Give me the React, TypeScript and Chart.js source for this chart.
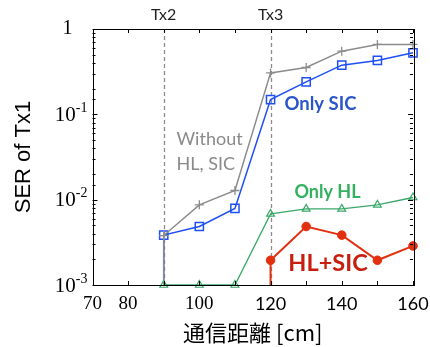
import React, { useEffect, useRef } from 'react';
import { Chart, registerables } from 'chart.js';

Chart.register(...registerables);

// ---- data ----
const distances = [90, 100, 110, 120, 130, 140, 150, 160];
const serWithout = [0.0038, 0.0087, 0.0128, 0.306, 0.354, 0.55, 0.66, 0.66];
const serOnlySIC = [0.00384, 0.00485, 0.0079, 0.149, 0.24, 0.377, 0.428, 0.526];
const serOnlyHL = [0.001, 0.001, 0.001, 0.0068, 0.0078, 0.0078, 0.0087, 0.0106];
const serHLSIC = [null, null, null, 0.00195, 0.00485, 0.00384, 0.00195, 0.00287];
const floorSER = 0.001;

const txPositions = [90, 120];
const txLabels = ['Tx2', 'Tx3'];

const xTickLabels = [70, 80, 100, 120, 140, 160];
const yDecades = [1, 0.1, 0.01, 0.001];
const yDecadeBase = ['1', '10', '10', '10'];
const yDecadeExp = ['', '-1', '-2', '-3'];

const noteTexts = ['Without', 'HL, SIC', 'Only SIC', 'Only HL', 'HL+SIC'];
const noteX = [93.6, 93.6, 123.9, 126.7, 125];
const noteY = [0.0508, 0.0258, 0.133, 0.01226, 0.00177];

// ---- styles ----
const noteColors = ['#8a8a8a', '#8a8a8a', '#2b56c8', '#33b15e', '#c81e10'];
const noteFonts = [
  '18px Lato', '18px Lato', 'bold 18.5px Lato', 'bold 18px Lato', 'bold 23.5px Lato',
];

type P = { x: number; y: number };

function buildPoints(vals: (number | null)[], floorAtStart: boolean): P[] {
  const pts: P[] = [];
  distances.forEach((d, i) => {
    const v = vals[i];
    if (v == null) return;
    if (floorAtStart && pts.length === 0) pts.push({ x: d, y: floorSER });
    pts.push({ x: d, y: v });
  });
  return pts;
}

function radii(pts: P[], floorAtStart: boolean, r: number): number[] {
  return pts.map((_, i) => (floorAtStart && i === 0 ? 0 : r));
}

const isDecade = (v: number) =>
  yDecades.findIndex((d) => Math.abs(Math.log10(v) - Math.log10(d)) < 1e-6);

const overlayPlugin = {
  id: 'overlay',
  beforeDatasetsDraw(chart: any) {
    const { ctx, chartArea, scales } = chart;
    const xs = scales.x;
    ctx.save();
    ctx.strokeStyle = '#8c8c8c';
    ctx.lineWidth = 1.3;
    ctx.setLineDash([4, 3]);
    txPositions.forEach((t) => {
      const px = Math.round(xs.getPixelForValue(t)) + 0.5;
      ctx.beginPath();
      ctx.moveTo(px, chartArea.top);
      ctx.lineTo(px, chartArea.bottom);
      ctx.stroke();
    });
    ctx.setLineDash([]);
    ctx.restore();
  },
  afterDraw(chart: any) {
    const { ctx, chartArea, scales } = chart;
    const xs = scales.x;
    const ys = scales.y;
    const { left, right, top, bottom } = chartArea;
    ctx.save();
    // frame
    ctx.strokeStyle = '#000';
    ctx.lineWidth = 1;
    ctx.strokeRect(Math.round(left) + 0.5, Math.round(top) + 0.5, Math.round(right - left), Math.round(bottom - top));
    // x tick marks inward (bottom & top)
    xs.ticks.forEach((t: any) => {
      const px = Math.round(xs.getPixelForValue(t.value)) + 0.5;
      ctx.beginPath();
      ctx.moveTo(px, bottom);
      ctx.lineTo(px, bottom - 4);
      ctx.moveTo(px, top);
      ctx.lineTo(px, top + 4);
      ctx.stroke();
    });
    // y tick marks inward (left & right)
    ys.ticks.forEach((t: any) => {
      const major = isDecade(t.value) >= 0;
      const len = major ? 5 : 3;
      const py = Math.round(ys.getPixelForValue(t.value)) + 0.5;
      ctx.beginPath();
      ctx.moveTo(left, py);
      ctx.lineTo(left + len, py);
      ctx.moveTo(right, py);
      ctx.lineTo(right - len, py);
      ctx.stroke();
    });
    // y decade labels with superscript exponents
    ctx.fillStyle = '#000';
    ctx.textBaseline = 'middle';
    yDecades.forEach((d, i) => {
      const py = ys.getPixelForValue(d);
      const xEnd = left - 5;
      if (!yDecadeExp[i]) {
        ctx.font = '20px "Liberation Serif"';
        ctx.textAlign = 'center';
        ctx.fillText(yDecadeBase[i], xEnd - 20, py);
        return;
      }
      ctx.font = '14px "Liberation Serif"';
      ctx.textAlign = 'right';
      const ew = ctx.measureText(yDecadeExp[i]).width;
      ctx.fillText(yDecadeExp[i], xEnd, py - 6);
      ctx.font = '21px "Liberation Serif"';
      ctx.fillText(yDecadeBase[i], xEnd - ew, py + 1);
    });
    // Tx labels
    ctx.fillStyle = '#222';
    ctx.font = '16px Lato';
    ctx.textAlign = 'center';
    ctx.textBaseline = 'middle';
    txPositions.forEach((t, i) => {
      ctx.fillText(txLabels[i], xs.getPixelForValue(t), top - 14);
    });
    // annotations
    ctx.textAlign = 'left';
    noteTexts.forEach((txt, i) => {
      ctx.fillStyle = noteColors[i];
      ctx.font = noteFonts[i];
      ctx.fillText(txt, xs.getPixelForValue(noteX[i]), ys.getPixelForValue(noteY[i]));
    });
    ctx.restore();
  },
};

export default function App() {
  const ref = useRef<HTMLCanvasElement | null>(null);
  useEffect(() => {
    if (!ref.current) return;
    const pWithout = buildPoints(serWithout, true);
    const pSIC = buildPoints(serOnlySIC, true);
    const pHL = buildPoints(serOnlyHL, false);
    const pHLSIC = buildPoints(serHLSIC, true);
    const chart = new Chart(ref.current, {
      type: 'line',
      data: {
        datasets: [
          {
            label: 'Only HL',
            data: pHL,
            borderColor: '#3aa868',
            backgroundColor: 'rgba(0,0,0,0)',
            borderWidth: 1.3,
            pointStyle: 'triangle',
            pointRadius: radii(pHL, false, 4.5),
            pointBorderColor: '#3aa868',
            pointBackgroundColor: 'rgba(255,255,255,0)',
            pointBorderWidth: 1.2,
            clip: false as any,
          },
          {
            label: 'Without HL, SIC',
            data: pWithout,
            borderColor: '#8c8c8c',
            backgroundColor: 'rgba(0,0,0,0)',
            borderWidth: 1.5,
            pointStyle: 'cross',
            pointRadius: radii(pWithout, true, 4.5),
            pointBorderColor: '#8c8c8c',
            pointBorderWidth: 1.3,
            clip: false as any,
          },
          {
            label: 'Only SIC',
            data: pSIC,
            borderColor: '#1f4ff5',
            backgroundColor: 'rgba(0,0,0,0)',
            borderWidth: 1.5,
            pointStyle: 'rect',
            pointRadius: radii(pSIC, true, 5.8),
            pointBorderColor: '#1f4ff5',
            pointBackgroundColor: 'rgba(255,255,255,0)',
            pointBorderWidth: 1.5,
            clip: false as any,
          },
          {
            label: 'HL+SIC',
            data: pHLSIC,
            borderColor: '#e2300f',
            backgroundColor: '#e2300f',
            borderWidth: 2,
            pointStyle: 'circle',
            pointRadius: radii(pHLSIC, true, 4.3),
            pointBorderColor: '#e2300f',
            pointBackgroundColor: '#e2300f',
            pointBorderWidth: 1,
            clip: false as any,
          },
        ],
      },
      options: {
        animation: false,
        responsive: false,
        devicePixelRatio: 1,
        layout: { padding: { left: 0, right: 17, top: 29, bottom: 0 } },
        plugins: { legend: { display: false }, tooltip: { enabled: false } },
        elements: { line: { tension: 0 } },
        scales: {
          x: {
            type: 'linear',
            min: 70,
            max: 160,
            grid: { display: false, drawTicks: false },
            border: { display: false },
            ticks: {
              stepSize: 10,
              autoSkip: false,
              maxRotation: 0,
              padding: 8,
              color: '#000',
              font: (c: any) =>
                c.tick && c.tick.value <= 100
                  ? { family: 'Liberation Serif', size: 19 }
                  : { family: 'Lato', size: 18 },
              callback: (v: any) => (xTickLabels.includes(Number(v)) ? String(v) : ''),
            },
            title: {
              display: true,
              text: '通信距離 [cm]',
              color: '#000',
              font: { family: 'Noto Sans CJK JP', size: 22 },
              padding: { top: 0, bottom: 1 },
            },
            afterFit: (s: any) => {
              s.height = 62;
              s.paddingLeft = 0;
              s.paddingRight = 0;
            },
          },
          y: {
            type: 'logarithmic',
            min: 0.001,
            max: 1,
            grid: { display: false, drawTicks: false },
            border: { display: false },
            ticks: {
              display: false,
              autoSkip: false,
            },
            title: {
              display: true,
              text: 'SER of Tx1',
              color: '#000',
              font: { family: 'Liberation Sans', size: 22 },
              padding: { top: 11, bottom: 0 },
            },
            afterFit: (s: any) => {
              s.width = 92.5;
              s.paddingTop = 0;
              s.paddingBottom = 0;
            },
          },
        },
      },
      plugins: [overlayPlugin],
    } as any);
    return () => chart.destroy();
  }, []);
  return (
    <div style={{ position: 'absolute', left: 0, top: 0, width: 430, height: 347, background: '#fff' }}>
      <canvas ref={ref} width={430} height={347} />
    </div>
  );
}
